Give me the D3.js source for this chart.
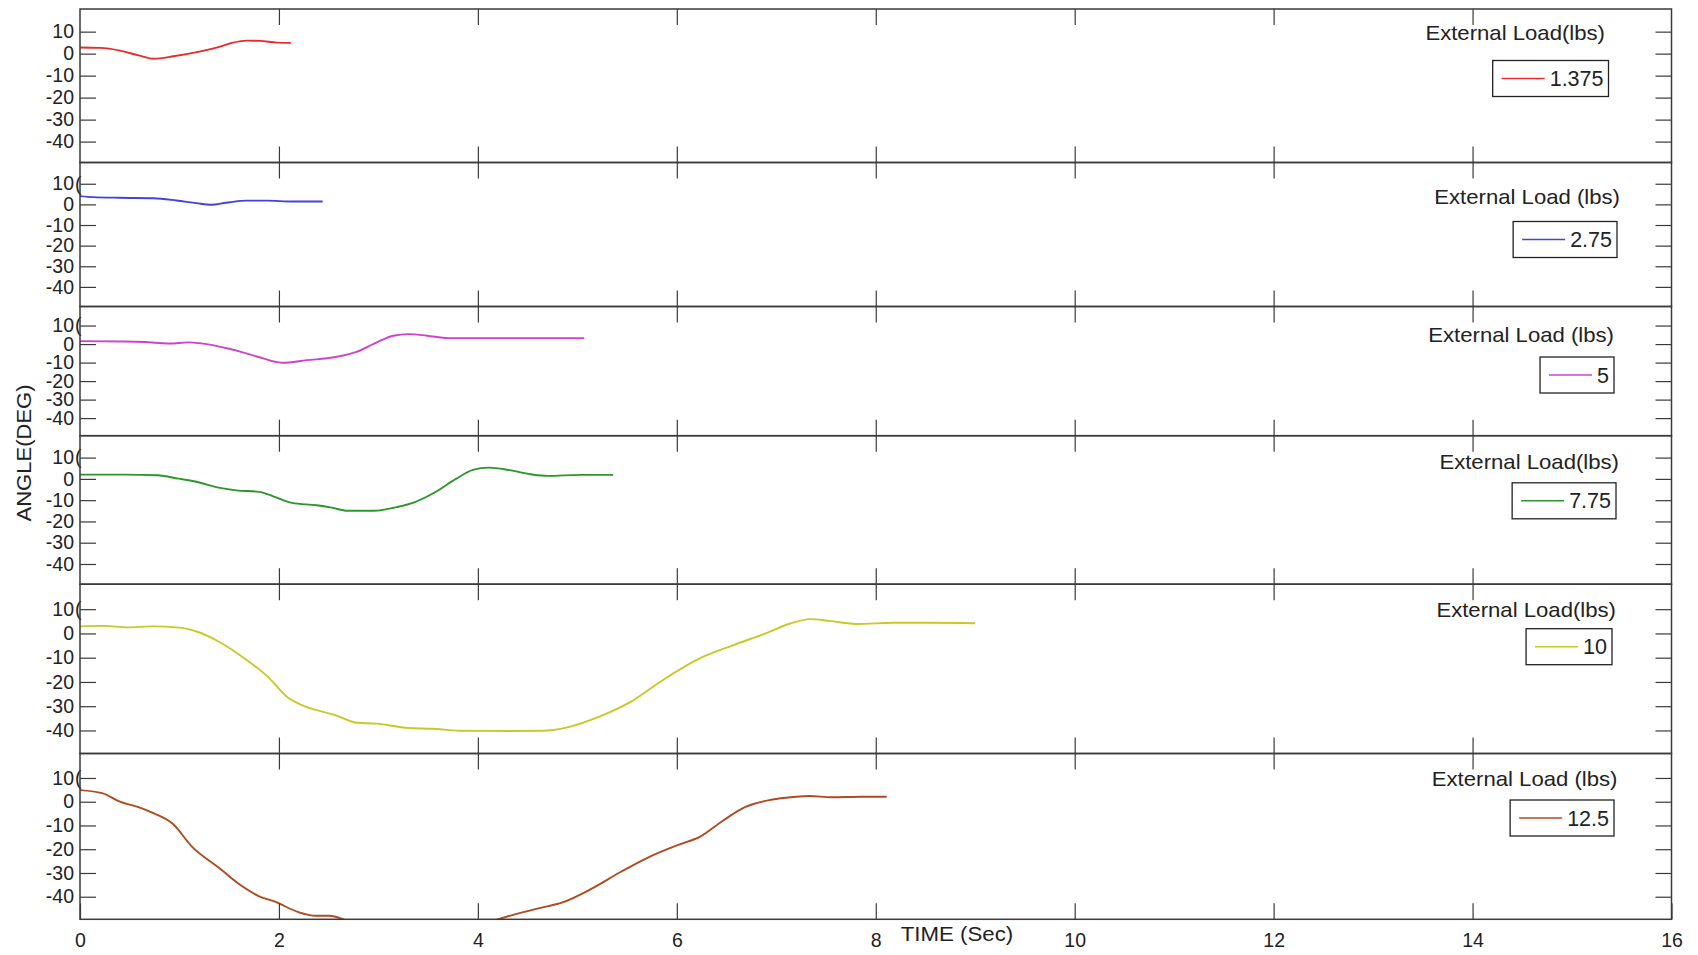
<!DOCTYPE html>
<html>
<head>
<meta charset="utf-8">
<script src="https://cdn.jsdelivr.net/npm/d3@7"></script>
<style>
body { margin: 0; background: #fff; }
svg { display: block; font-family: "Liberation Sans", Arial, sans-serif; }
</style>
</head>
<body>
<svg id="chart" width="1698" height="955"></svg>
<script>
// ---- data ----
const loads = ["1.375", "2.75", "5", "7.75", "10", "12.5"];
const titles = ["External Load(lbs)", "External Load (lbs)", "External Load (lbs)",
                "External Load(lbs)", "External Load(lbs)", "External Load (lbs)"];
const xTicks = [0, 2, 4, 6, 8, 10, 12, 14, 16];
const yTicks = [10, 0, -10, -20, -30, -40];
const yDomain = [-49.5, 20.3];

const time1 = [0, 0.2, 0.4, 0.6, 0.74, 0.94, 1.2, 1.41, 1.54, 1.68, 1.81, 1.98, 2.12];
const angle1 = [2.8, 2.6, 1.4, -0.9, -2.3, -1.2, 0.9, 3.2, 5.0, 5.9, 5.8, 5.0, 4.9];

const time2 = [0, 0.13, 0.4, 0.74, 0.97, 1.17, 1.32, 1.47, 1.68, 1.88, 2.14, 2.44];
const angle2 = [4.0, 3.5, 3.2, 3.0, 1.9, 0.6, -0.2, 0.8, 1.8, 1.8, 1.4, 1.4];

const time3 = [0, 0.45, 0.65, 0.9, 1.09, 1.2, 1.49, 1.78, 2.03, 2.28, 2.57, 2.78, 2.99, 3.15,
               3.3, 3.49, 3.7, 4.2, 4.61, 5.07];
const angle3 = [1.6, 1.4, 1.1, 0.3, 0.9, 0.5, -2.4, -6.7, -10.1, -8.7, -7.0, -4.2, 1.1, 4.5,
                5.4, 4.5, 3.2, 3.2, 3.2, 3.2];

const time4 = [0, 0.45, 0.78, 0.99, 1.2, 1.38, 1.57, 1.8, 1.95, 2.13, 2.38, 2.53, 2.69, 2.95,
               3.2, 3.36, 3.57, 3.78, 3.95, 4.11, 4.32, 4.53, 4.7, 5.03, 5.36];
const angle4 = [2.0, 2.0, 1.7, 0.1, -1.7, -4.0, -5.4, -6.1, -8.3, -11.3, -12.4, -13.5, -15, -15,
                -13.1, -11, -6.3, 0, 4.2, 5.3, 4.1, 2.2, 1.4, 1.9, 1.9];

const time5 = [0, 0.25, 0.48, 0.73, 1.02, 1.18, 1.37, 1.63, 1.89, 2.08, 2.27, 2.56, 2.78, 2.98,
               3.3, 3.55, 3.81, 4.33, 4.65, 4.9, 5.22, 5.54, 5.86, 6.25, 6.57, 6.89, 7.14, 7.34,
               7.53, 7.82, 8.17, 8.55, 9.0];
const angle5 = [2.9, 3.1, 2.5, 2.9, 2.3, 0.7, -2.8, -9.6, -17.9, -26.1, -30.2, -33.6, -36.8, -37.2,
                -39, -39.3, -40.1, -40.2, -40.1, -38.7, -34.3, -28.1, -19.2, -9.9, -4.8, 0, 4.1, 5.9,
                5.2, 3.9, 4.4, 4.4, 4.2];

const time6 = [0, 0.23, 0.4, 0.58, 0.72, 0.93, 1.13, 1.39, 1.62, 1.79, 1.96, 2.19, 2.37, 2.51,
               2.68, 3.0, 3.4, 3.8, 4.17, 4.38, 4.62, 4.85, 5.14, 5.43, 5.72, 6.0, 6.24, 6.47,
               6.69, 6.93, 7.1, 7.33, 7.56, 7.85, 8.11];
const angle6 = [4.9, 3.5, 0, -2.2, -4.5, -9.2, -19.1, -27.6, -35.3, -39.6, -42.1, -46.4, -48, -48,
                -49.9, -53, -54, -53, -49.9, -47.3, -44.8, -42.4, -36.7, -29.7, -23.3, -18.4, -14.6, -7.8,
                -2.2, 0.7, 1.7, 2.4, 1.9, 2.1, 2.1];

const times = [time1, time2, time3, time4, time5, time6];
const angles = [angle1, angle2, angle3, angle4, angle5, angle6];

// ---- look ----
const colors = ["#e62c2c", "#4343dc", "#cc44cc", "#2c962c", "#c8c828", "#b04a20"];
const panelEdges = [9, 162.5, 306.5, 435.7, 584.2, 753.5, 919.3]; // top of each panel + bottom
const titleRight = [1605, 1620, 1614, 1619, 1616, 1617.5];
const boxRight = [1608.5, 1617, 1614, 1616, 1612, 1614];
const titleDy = [24, 34, 28.5, 26.6, 26, 25.5];   // from panel top
const boxDy = [45.5, 43, 40, 38.5, 36.5, 39];     // title centre -> box centre

const xLeft = 80, xRight = 1671.5, tickLen = 16;
const axisColor = "#3a3a3a", textColor = "#222";

var svg = d3.select("#chart");
var x = d3.scaleLinear().domain([0, 16]).range([xLeft, xRight]);

loads.forEach(function(load, i) {
    var top = panelEdges[i], bottom = panelEdges[i + 1];
    var y = d3.scaleLinear().domain(yDomain).range([bottom, top]);
    var g = svg.append("g").attr("class", "panel");

    svg.append("clipPath").attr("id", "clip" + i)
      .append("rect")
      .attr("x", xLeft).attr("y", top)
      .attr("width", xRight - xLeft).attr("height", bottom - top);

    var pts = times[i].map((t, j) => [t, angles[i][j]]);
    var line = d3.line()
        .x(d => x(d[0]))
        .y(d => y(d[1]))
        .curve(d3.curveMonotoneX);

    g.append("path")
      .datum(pts)
      .attr("clip-path", "url(#clip" + i + ")")
      .attr("fill", "none")
      .attr("stroke", colors[i])
      .attr("stroke-width", 1.9)
      .attr("d", line);

    // left axis with labels, ticks pointing in
    var yl = g.append("g")
      .attr("transform", "translate(" + xLeft + ",0)")
      .call(d3.axisLeft(y).tickValues(yTicks).tickSizeInner(-tickLen).tickSizeOuter(0)
            .tickPadding(6).tickFormat(d => String(d)));
    // right axis, ticks only
    var yr = g.append("g")
      .attr("transform", "translate(" + xRight + ",0)")
      .call(d3.axisRight(y).tickValues(yTicks).tickSizeInner(-tickLen).tickSizeOuter(0).tickFormat(""));
    // top and bottom ticks
    var xt = g.append("g")
      .attr("transform", "translate(0," + top + ")")
      .call(d3.axisTop(x).tickValues(xTicks.slice(1, -1)).tickSizeInner(-tickLen).tickSizeOuter(0).tickFormat(""));
    var xb = g.append("g")
      .attr("transform", "translate(0," + bottom + ")")
      .call(d3.axisBottom(x).tickValues(i == 5 ? xTicks : xTicks.slice(1, -1))
            .tickSizeInner(-tickLen).tickSizeOuter(0).tickPadding(14)
            .tickFormat(i == 5 ? (d => String(d)) : ""));

    [yl, yr, xt, xb].forEach(function(a) {
        a.attr("font-size", null).attr("font-family", null);
        a.select(".domain").remove();
        a.selectAll(".tick line").attr("stroke", axisColor).attr("stroke-width", 1.2);
        a.selectAll(".tick text")
          .attr("fill", textColor)
          .style("font-size", "19.5px");
    });

    // the odd "(" stuck after the 10 label on the lower panels
    if (i > 0) {
        g.append("text")
          .attr("x", xLeft - 5).attr("y", y(10))
          .attr("dy", "0.35em")
          .attr("fill", textColor)
          .style("font-size", "19.5px")
          .text("(");
    }

    // legend title + box
    var cy = top + titleDy[i];
    g.append("text")
      .attr("transform", "translate(" + titleRight[i] + "," + cy + ") scale(1.08,1)")
      .attr("text-anchor", "end")
      .attr("dy", "0.35em")
      .attr("fill", textColor)
      .style("font-size", "20.5px")
      .text(titles[i]);

    var by = cy + boxDy[i];
    var tmp = g.append("text")
      .style("font-size", "21.5px")
      .text(load);
    var tw = tmp.node().getComputedTextLength();
    tmp.remove();
    var bx = boxRight[i] - (9 + 43 + 5 + tw + 5);

    g.append("rect")
      .attr("x", bx).attr("y", by - 18)
      .attr("width", boxRight[i] - bx).attr("height", 36)
      .attr("fill", "#fff")
      .attr("stroke", "#222")
      .attr("stroke-width", 1.3);
    g.append("line")
      .attr("x1", bx + 9).attr("x2", bx + 52)
      .attr("y1", by).attr("y2", by)
      .attr("stroke", colors[i])
      .attr("stroke-width", 1.5);
    g.append("text")
      .attr("x", bx + 57)
      .attr("y", by)
      .attr("dy", "0.35em")
      .attr("fill", textColor)
      .style("font-size", "21.5px")
      .text(load);
});

// panel frames
svg.append("g").selectAll("rect")
  .data(d3.range(6))
  .join("rect")
    .attr("x", xLeft)
    .attr("y", i => panelEdges[i])
    .attr("width", xRight - xLeft)
    .attr("height", i => panelEdges[i + 1] - panelEdges[i])
    .attr("fill", "none")
    .attr("stroke", axisColor)
    .attr("stroke-width", 1.5);

// axis titles
svg.append("text")
  .attr("transform", "translate(24,453) rotate(-90) scale(1.05,1)")
  .attr("text-anchor", "middle")
  .attr("dy", "0.35em")
  .attr("fill", textColor)
  .style("font-size", "21px")
  .text("ANGLE(DEG)");

svg.append("text")
  .attr("transform", "translate(957,934) scale(1.06,1)")
  .attr("text-anchor", "middle")
  .attr("dy", "0.35em")
  .attr("fill", textColor)
  .style("font-size", "21px")
  .text("TIME (Sec)");
</script>
</body>
</html>
